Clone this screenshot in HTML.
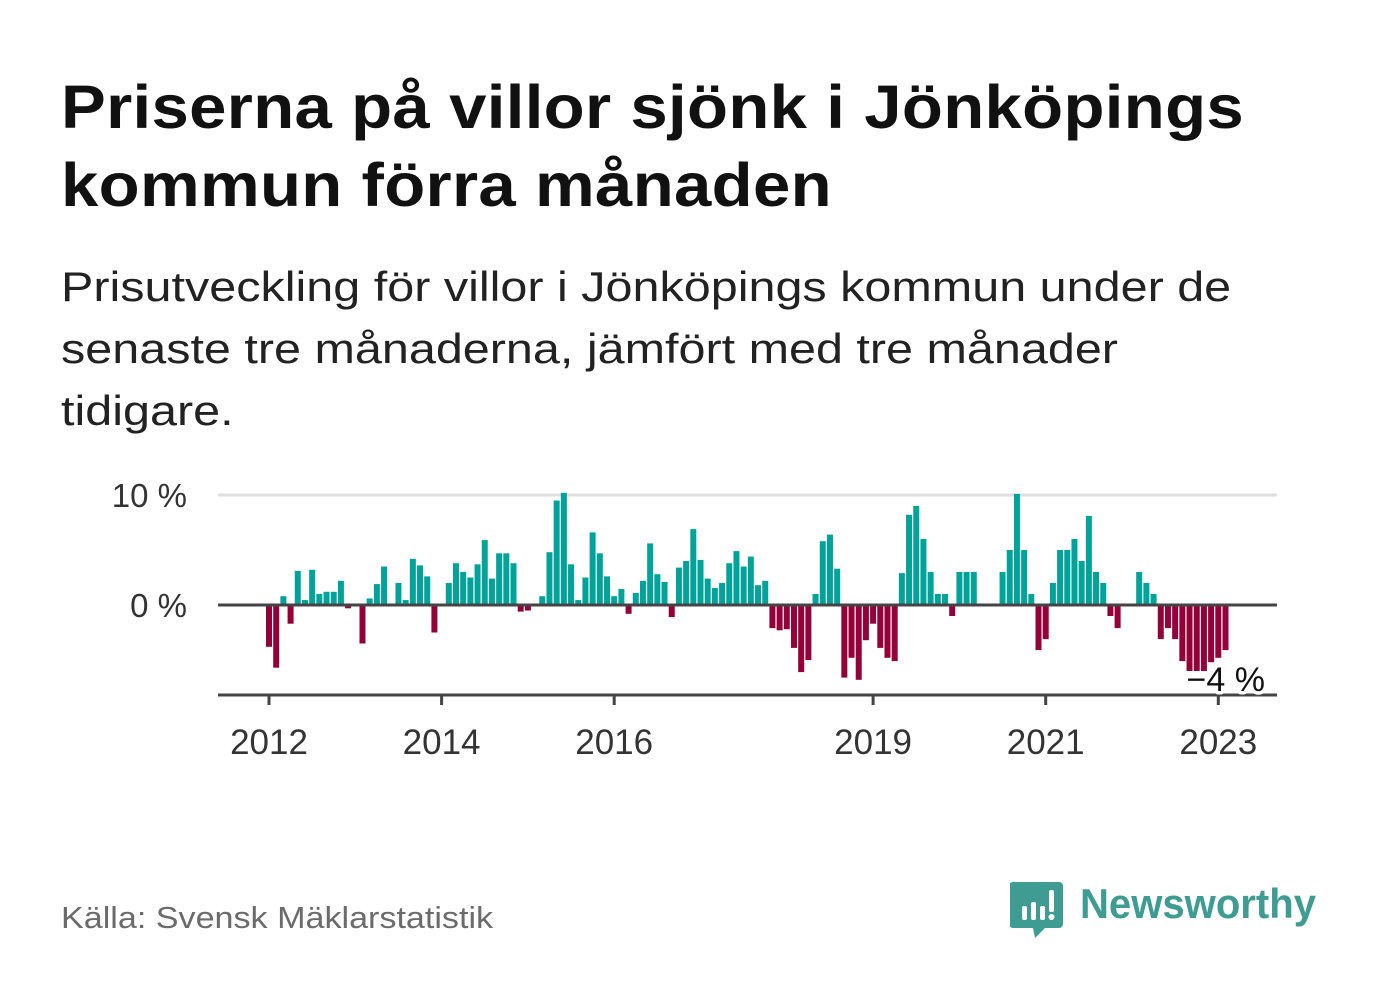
<!DOCTYPE html>
<html><head><meta charset="utf-8"><style>
body{margin:0;background:#fff;width:1382px;height:999px;overflow:hidden;font-family:"Liberation Sans",sans-serif;}
#title{position:absolute;left:61px;top:68px;font-size:61px;font-weight:bold;line-height:78px;color:#111;margin:0;letter-spacing:0.3px;transform:scaleX(1.1);transform-origin:0 0;white-space:nowrap}
#sub{position:absolute;left:61px;top:256px;font-size:42px;line-height:62px;color:#222;margin:0;transform:scaleX(1.155);transform-origin:0 0;white-space:nowrap}
#src{position:absolute;left:61px;top:900px;font-size:31px;color:#6b6b6b;transform:scaleX(1.1);transform-origin:0 0;white-space:nowrap}
#logo{position:absolute;left:1010px;top:878px}
svg text{font-family:"Liberation Sans",sans-serif}
</style></head><body>
<h1 id="title">Priserna på villor sjönk i Jönköpings<br>kommun förra månaden</h1>
<p id="sub">Prisutveckling för villor i Jönköpings kommun under de<br>senaste tre månaderna, jämfört med tre månader<br>tidigare.</p>
<svg id="chart" style="position:absolute;left:0;top:0" width="1382" height="999"></svg>
<div id="src">Källa: Svensk Mäklarstatistik</div>
<div id="logo">
<svg width="340" height="64">
<path d="M3 4 h46 a4 4 0 0 1 4 4 v38 a4 4 0 0 1 -4 4 h-14 l-10 10 l-2 -10 h-20 a4 4 0 0 1 -4 -4 v-38 a4 4 0 0 1 4 -4z" fill="#3f9c93"/>
<rect x="12" y="28" width="5" height="14" rx="2" fill="#fff"/><rect x="21" y="24" width="5" height="18" rx="2" fill="#fff"/><rect x="30" y="28" width="5" height="14" rx="2" fill="#fff"/><rect x="39" y="12" width="5" height="22" rx="2" fill="#fff"/><circle cx="41.5" cy="39" r="3" fill="#fff"/>
<text x="70" y="40" font-size="42" font-weight="bold" fill="#3f9c93" textLength="236" lengthAdjust="spacingAndGlyphs">Newsworthy</text>
</svg></div>
<script>
const startYear = 2012, startMonth = 0;
const values = [-3.8,-5.7,0.8,-1.7,3.1,0.45,3.2,1.0,1.2,1.2,2.2,-0.3,
0,-3.5,0.6,1.9,3.5,0,2.0,0.45,4.2,3.6,2.6,-2.5,
0,2.0,3.8,3.0,2.5,3.7,5.9,2.4,4.7,4.7,3.8,-0.6,
-0.5,0,0.8,4.8,9.5,10.2,3.7,0.45,2.5,6.6,4.7,2.6,
0.8,1.45,-0.8,1.1,2.2,5.6,2.8,2.1,-1.1,3.4,4.0,6.9,
4.1,2.4,1.55,2.0,3.8,4.9,3.5,4.4,1.8,2.2,-2.1,-2.3,
-2.2,-3.9,-6.1,-5.0,1.0,5.8,6.4,3.3,-6.6,-4.8,-6.8,-3.2,
-1.7,-3.9,-4.8,-5.1,2.9,8.2,9.0,6.0,3.0,1.0,1.0,-1.0,
3.0,3.0,3.0,0,0,0,3.0,5.0,10.1,5.0,1.0,-4.1,
-3.1,2.0,5.0,5.0,6.0,4.0,8.1,3.0,2.0,-1.0,-2.1,0,
0,3.0,2.0,1.0,-3.1,-2.1,-3.1,-5.1,-6.0,-6.0,-6.0,-5.2,
-4.8,-4.1];
const yTicks = [0,10];
const yTickLabels = ["0 %","10 %"];
const xTickYears = [2012,2014,2016,2019,2021,2023];
const lastLabel = "−4 %";

const NS="http://www.w3.org/2000/svg";
const svg=document.getElementById('chart');
const x0=218,x1=1277,yZero=605,pxPerPct=11,yBottom=695;
const monthPx=86.3/12;
function xMonth(i){return 269+monthPx*i;}
function xYear(y){return xMonth((y-startYear)*12-startMonth);}
function yv(v){return yZero-v*pxPerPct;}
function mk(tag,attrs){const e=document.createElementNS(NS,tag);for(const k in attrs)e.setAttribute(k,attrs[k]);svg.appendChild(e);return e;}

yTicks.forEach((t,i)=>{
  if(t!==0){const g=mk('line',{x1:x0,x2:x1,y1:yv(t),y2:yv(t),stroke:'#dedede','stroke-width':3});
  
  }
  const tx=mk('text',{x:187,y:yv(t)+12,'font-size':33,fill:'#333','text-anchor':'end'});
  tx.textContent=yTickLabels[i];
  
  
});
values.forEach((v,i)=>{
  const xc=xMonth(i);
  const r=mk('rect',{x:xc-3,y:v>=0?yv(v):yZero,width:6,height:Math.abs(v)*pxPerPct,fill:v>=0?'#00a39a':'#960038'});
  
  
});
const zl=mk('line',{x1:x0,x2:x1,y1:yZero,y2:yZero,stroke:'#444','stroke-width':3});


const ax=mk('line',{x1:x0,x2:x1,y1:yBottom,y2:yBottom,stroke:'#444','stroke-width':3});


xTickYears.forEach(y=>{
  const tk=mk('line',{x1:xYear(y),x2:xYear(y),y1:yBottom,y2:yBottom+10,stroke:'#444','stroke-width':3});
  
  
  const tl=mk('text',{x:xYear(y),y:yBottom+59,'font-size':35,fill:'#333','text-anchor':'middle'});
  tl.textContent=y;
  
  
});
const ll=mk('text',{x:xMonth(values.length-1)-39,y:691,'font-size':34,fill:'#111',stroke:'#fff','stroke-width':7,'paint-order':'stroke','stroke-linejoin':'round'});
ll.textContent=lastLabel;


</script>
</body></html>
